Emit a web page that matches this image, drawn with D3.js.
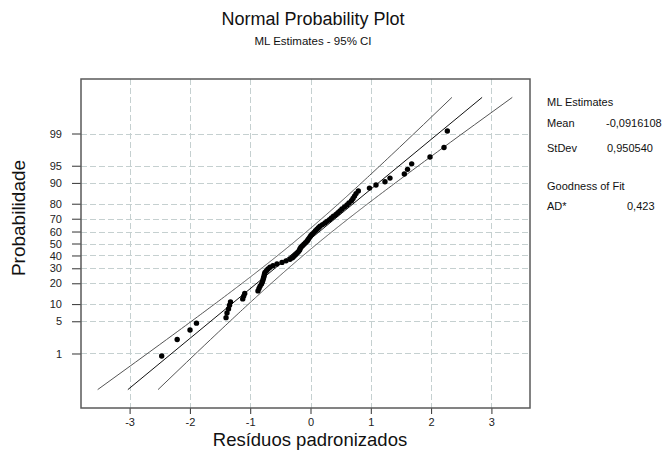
<!DOCTYPE html>
<html>
<head>
<meta charset="utf-8">
<script src="https://cdn.jsdelivr.net/npm/d3@7"></script>
<style>
  html, body { margin: 0; padding: 0; background: #fff; }
  svg { display: block; font-family: "Liberation Sans", Arial, sans-serif; }
</style>
</head>
<body>
<svg id="chart" width="664" height="450"></svg>
<script>
// ---- data ----
const residuals = [
  -2.468, -2.211, -1.998, -1.891, -1.401, -1.385, -1.360, -1.343, -1.327, -1.124,
  -1.108, -1.091, -0.871, -0.854, -0.837, -0.813, -0.799, -0.788, -0.779, -0.771,
  -0.763, -0.755, -0.730, -0.705, -0.672, -0.622, -0.556, -0.473, -0.406, -0.340,
  -0.299, -0.274, -0.249, -0.224, -0.202, -0.182, -0.174, -0.158, -0.133, -0.108,
  -0.083, -0.058, -0.041, -0.025, -0.008, 0.008, 0.033, 0.058, 0.083, 0.108,
  0.133, 0.158, 0.199, 0.240, 0.274, 0.315, 0.348, 0.381, 0.423, 0.456,
  0.489, 0.522, 0.564, 0.605, 0.638, 0.680, 0.705, 0.730, 0.755, 0.793,
  0.978, 1.086, 1.235, 1.318, 1.556, 1.609, 1.678, 1.982, 2.214, 2.269
];
const mlMean = -0.0916108;
const mlStDev = 0.950540;
const adStat = 0.423;
const yTickLabels = [1, 5, 10, 20, 30, 40, 50, 60, 70, 80, 90, 95, 99];
const xTickValues = [-3, -2, -1, 0, 1, 2, 3];
const titleText = "Normal Probability Plot";
const subtitleText = "ML Estimates - 95% CI";
const xLabel = "Resíduos padronizados";
const yLabel = "Probabilidade";

// ---- helpers ----
function normInv(p) {
  const a = [-3.969683028665376e+01, 2.209460984245205e+02, -2.759285104469687e+02, 1.383577518672690e+02, -3.066479806614716e+01, 2.506628277459239e+00];
  const b = [-5.447609879822406e+01, 1.615858368580409e+02, -1.556989798598866e+02, 6.680131188771972e+01, -1.328068155288572e+01];
  const c = [-7.784894002430293e-03, -3.223964580411365e-01, -2.400758277161838e+00, -2.549732539343734e+00, 4.374664141464968e+00, 2.938163982698783e+00];
  const d = [7.784695709041462e-03, 3.224671290700398e-01, 2.445134137142996e+00, 3.754408661907416e+00];
  const pl = 0.02425, ph = 1 - pl;
  let q, r;
  if (p < pl) {
    q = Math.sqrt(-2 * Math.log(p));
    return (((((c[0]*q+c[1])*q+c[2])*q+c[3])*q+c[4])*q+c[5]) / ((((d[0]*q+d[1])*q+d[2])*q+d[3])*q+1);
  } else if (p <= ph) {
    q = p - 0.5; r = q * q;
    return (((((a[0]*r+a[1])*r+a[2])*r+a[3])*r+a[4])*r+a[5])*q / (((((b[0]*r+b[1])*r+b[2])*r+b[3])*r+b[4])*r+1);
  } else {
    q = Math.sqrt(-2 * Math.log(1 - p));
    return -(((((c[0]*q+c[1])*q+c[2])*q+c[3])*q+c[4])*q+c[5]) / ((((d[0]*q+d[1])*q+d[2])*q+d[3])*q+1);
  }
}
const comma = s => s.replace(".", ",");

// ---- layout ----
const svg = d3.select("#chart");
const L = 81, R = 530, T = 79, B = 408;
const zMax = 3.479;
const x = d3.scaleLinear().domain([-3.806, 3.640]).range([L, R]);
const y = d3.scaleLinear().domain([-zMax, zMax]).range([B, T]);

// grid
const gridColor = "#c5d0d0";
svg.append("g").selectAll("line").data(xTickValues).join("line")
  .attr("x1", d => Math.round(x(d)) + 0.5).attr("x2", d => Math.round(x(d)) + 0.5)
  .attr("y1", T).attr("y2", B)
  .attr("stroke", gridColor).attr("stroke-dasharray", "6,3");
svg.append("g").selectAll("line").data(yTickLabels).join("line")
  .attr("x1", L).attr("x2", R)
  .attr("y1", d => Math.round(y(normInv(d / 100))) + 0.5).attr("y2", d => Math.round(y(normInv(d / 100))) + 0.5)
  .attr("stroke", gridColor).attr("stroke-dasharray", "6,3");

// axes
const yAxis = d3.axisLeft(y)
  .tickValues(yTickLabels.map(p => normInv(p / 100)))
  .tickFormat((d, i) => yTickLabels[i])
  .tickSize(9).tickPadding(10);
const gy = svg.append("g").attr("transform", `translate(${L},0)`).call(yAxis);
gy.select(".domain").remove();
gy.selectAll("line").attr("stroke", "#333");
gy.selectAll("text").attr("font-size", 11).attr("fill", "#222")
  .attr("font-family", "Liberation Sans, Arial, sans-serif");

const xAxis = d3.axisBottom(x).tickValues(xTickValues).tickSize(6).tickPadding(4)
  .tickFormat(d => d < 0 ? "-" + Math.abs(d) : d);
const gx = svg.append("g").attr("transform", `translate(0,${B})`).call(xAxis);
gx.select(".domain").remove();
gx.selectAll("line").attr("stroke", "#333");
gx.selectAll("text").attr("font-size", 11).attr("fill", "#222")
  .attr("font-family", "Liberation Sans, Arial, sans-serif");

// frame
svg.append("rect").attr("x", L).attr("y", T).attr("width", R - L).attr("height", B - T)
  .attr("fill", "none").attr("stroke", "#5a5a5a").attr("stroke-width", 1.5);

// fitted line & confidence bands
const n = residuals.length;
const zc = 1.959964;
const ps = d3.range(0, 201).map(i => 0.001 + (0.998 * i) / 200);
const bandPts = ps.map(p => {
  const z = normInv(p);
  const xp = mlMean + z * mlStDev;
  const se = mlStDev * Math.sqrt(1 / n + (z * z) / (2 * n));
  return { z, xp, lo: xp - zc * se, hi: xp + zc * se };
});
const lineGen = key => d3.line().x(d => x(d[key])).y(d => y(d.z));
svg.append("path").datum(bandPts).attr("d", lineGen("lo"))
  .attr("fill", "none").attr("stroke", "#555").attr("stroke-width", 1);
svg.append("path").datum(bandPts).attr("d", lineGen("hi"))
  .attr("fill", "none").attr("stroke", "#555").attr("stroke-width", 1);
svg.append("path").datum([bandPts[0], bandPts[bandPts.length - 1]]).attr("d", lineGen("xp"))
  .attr("fill", "none").attr("stroke", "#111").attr("stroke-width", 1);

// points (median-rank plotting positions)
const sorted = residuals.slice().sort((a, b) => a - b);
svg.append("g").selectAll("circle").data(sorted).join("circle")
  .attr("cx", d => x(d))
  .attr("cy", (d, i) => y(normInv((i + 1 - 0.3) / (n + 0.4))))
  .attr("r", 2.7).attr("fill", "#000");

// titles
svg.append("text").attr("x", 313).attr("y", 25).attr("text-anchor", "middle")
  .attr("font-size", 18).attr("fill", "#111").text(titleText);
svg.append("text").attr("x", 313).attr("y", 45).attr("text-anchor", "middle")
  .attr("font-size", 11.5).attr("fill", "#111").text(subtitleText);
svg.append("text").attr("x", 310).attr("y", 446).attr("text-anchor", "middle")
  .attr("font-size", 18.5).attr("fill", "#111").text(xLabel);
svg.append("text").attr("transform", "translate(25,218) rotate(-90)").attr("text-anchor", "middle")
  .attr("font-size", 19).attr("fill", "#111").text(yLabel);

// legend / stats
const lg = svg.append("g").attr("font-size", 11).attr("fill", "#111");
lg.append("text").attr("x", 547).attr("y", 106).text("ML Estimates");
lg.append("text").attr("x", 547).attr("y", 127).text("Mean");
lg.append("text").attr("x", 606).attr("y", 127).text(comma(mlMean.toFixed(7)));
lg.append("text").attr("x", 547).attr("y", 152).text("StDev");
lg.append("text").attr("x", 607).attr("y", 152).text(comma(mlStDev.toFixed(6)));
lg.append("text").attr("x", 547).attr("y", 190).text("Goodness of Fit");
lg.append("text").attr("x", 547).attr("y", 210).text("AD*");
lg.append("text").attr("x", 627).attr("y", 210).text(comma(adStat.toFixed(3)));
</script>
</body>
</html>
